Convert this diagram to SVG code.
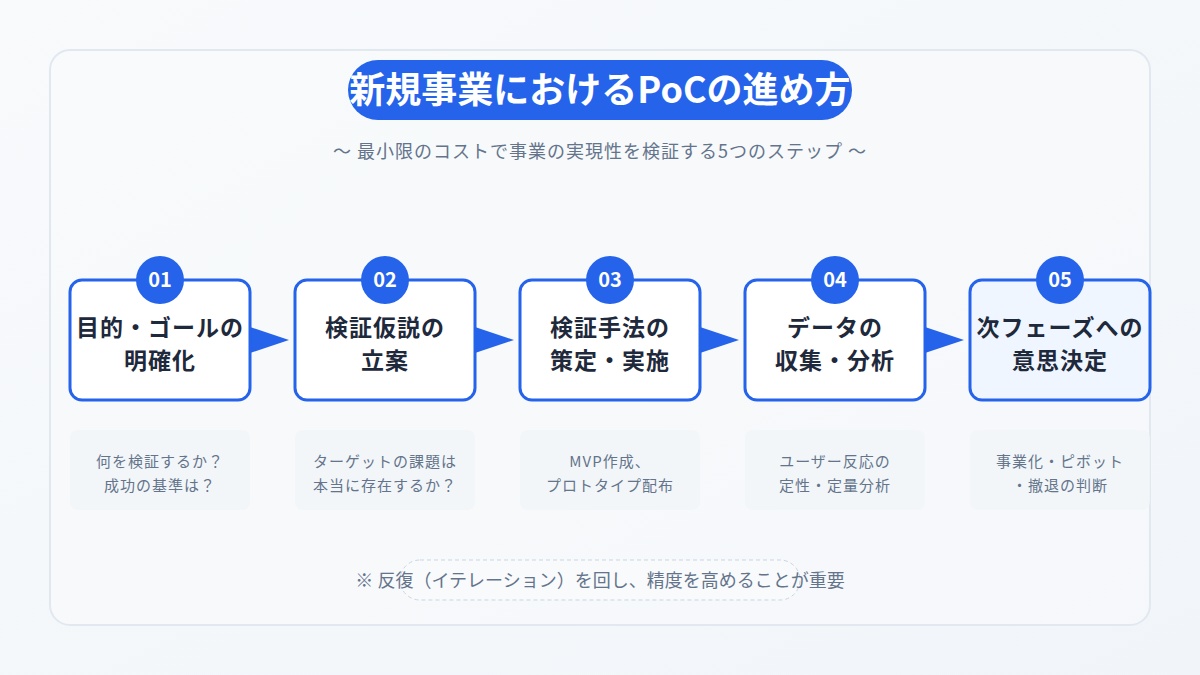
<svg xmlns="http://www.w3.org/2000/svg" width="1200" height="675" viewBox="0 0 1200 675">
<defs>
<linearGradient id="bg" x1="0" y1="0" x2="1" y2="1"><stop offset="0" stop-color="#f8fafc"/><stop offset="1" stop-color="#f1f5f9"/></linearGradient>
<style>
text{font-family:"Noto Sans CJK JP","Noto Sans",sans-serif;text-anchor:middle}
.box{fill:#fff;stroke:#2563eb;stroke-width:3}
.badge{fill:#2563eb}
.num{fill:#fff;font-size:20px;font-weight:700}
.lbl{fill:#1e293b;font-size:23px;font-weight:700;letter-spacing:1px}
.desc{fill:#f1f5f9;opacity:0.8}
.dt{fill:#64748b;font-size:15px;letter-spacing:1px}
.arr{fill:#2563eb}
</style>
</defs>
<rect width="1200" height="675" fill="url(#bg)"/>
<rect x="50" y="50" width="1100" height="575" rx="20" fill="#f8fafc" fill-opacity="0.6" stroke="#e2e8f0" stroke-width="2"/>
<g id="title">
<rect x="348" y="60" width="504" height="60" rx="30" fill="#2563eb"/>
<text x="600" y="103" fill="#fff" font-size="36" font-weight="700">新規事業におけるPoCの進め方</text>
</g>
<text x="600" y="158" fill="#64748b" font-size="18" letter-spacing="1">〜 最小限のコストで事業の実現性を検証する5つのステップ 〜</text>
<g id="connectors">
<polygon class="arr" points="250,327 289,340 250,353"/>
<polygon class="arr" points="475,327 514,340 475,353"/>
<polygon class="arr" points="700,327 739,340 700,353"/>
<polygon class="arr" points="925,327 964,340 925,353"/>
</g>
<g id="step1">
<rect class="box" x="70" y="280" width="180" height="120" rx="12"/>
<circle class="badge" cx="160" cy="280" r="24"/><text class="num" x="160" y="287">01</text>
<text class="lbl" x="160" y="336">目的・ゴールの</text><text class="lbl" x="160" y="369">明確化</text>
<rect class="desc" x="70" y="430" width="180" height="80" rx="8"/>
<text class="dt" x="160" y="467">何を検証するか？</text><text class="dt" x="160" y="491">成功の基準は？</text>
</g>
<g id="step2">
<rect class="box" x="295" y="280" width="180" height="120" rx="12"/>
<circle class="badge" cx="385" cy="280" r="24"/><text class="num" x="385" y="287">02</text>
<text class="lbl" x="385" y="336">検証仮説の</text><text class="lbl" x="385" y="369">立案</text>
<rect class="desc" x="295" y="430" width="180" height="80" rx="8"/>
<text class="dt" x="385" y="467">ターゲットの課題は</text><text class="dt" x="385" y="491">本当に存在するか？</text>
</g>
<g id="step3">
<rect class="box" x="520" y="280" width="180" height="120" rx="12"/>
<circle class="badge" cx="610" cy="280" r="24"/><text class="num" x="610" y="287">03</text>
<text class="lbl" x="610" y="336">検証手法の</text><text class="lbl" x="610" y="369">策定・実施</text>
<rect class="desc" x="520" y="430" width="180" height="80" rx="8"/>
<text class="dt" x="610" y="467">MVP作成、</text><text class="dt" x="610" y="491">プロトタイプ配布</text>
</g>
<g id="step4">
<rect class="box" x="745" y="280" width="180" height="120" rx="12"/>
<circle class="badge" cx="835" cy="280" r="24"/><text class="num" x="835" y="287">04</text>
<text class="lbl" x="835" y="336">データの</text><text class="lbl" x="835" y="369">収集・分析</text>
<rect class="desc" x="745" y="430" width="180" height="80" rx="8"/>
<text class="dt" x="835" y="467">ユーザー反応の</text><text class="dt" x="835" y="491">定性・定量分析</text>
</g>
<g id="step5">
<rect class="box" x="970" y="280" width="180" height="120" rx="12" style="fill:#eff6ff"/>
<circle class="badge" cx="1060" cy="280" r="24"/><text class="num" x="1060" y="287">05</text>
<text class="lbl" x="1060" y="336">次フェーズへの</text><text class="lbl" x="1060" y="369">意思決定</text>
<rect class="desc" x="970" y="430" width="180" height="80" rx="8"/>
<text class="dt" x="1060" y="467">事業化・ピボット</text><text class="dt" x="1060" y="491">・撤退の判断</text>
</g>
<g id="note">
<rect x="400" y="560" width="400" height="40" rx="20" fill="#f8fafc" stroke="#cbd5e1" stroke-dasharray="4 3"/>
<text x="600" y="587" fill="#64748b" font-size="18">※ 反復（イテレーション）を回し、精度を高めることが重要</text>
</g>
</svg>
